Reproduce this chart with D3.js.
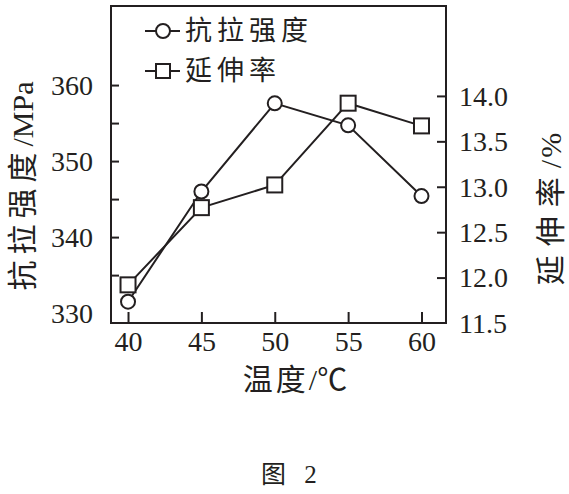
<!DOCTYPE html>
<html>
<head>
<meta charset="utf-8">
<script src="https://cdn.jsdelivr.net/npm/d3@7"></script>
<style>
  html, body { margin: 0; padding: 0; background: #fff; }
  svg { display: block; }
</style>
</head>
<body>
<svg id="chart" width="569" height="494"></svg>
<script>
// ---- data ----
const temperatures = [40, 45, 50, 55, 60];
const tensileStrength = [331.5, 346.0, 357.6, 354.7, 345.4];   // MPa
const elongation = [11.92, 12.77, 13.02, 13.92, 13.67];         // %
const xTicks = [40, 45, 50, 55, 60];
const leftTicks = [335, 340, 345, 350, 355, 360];
const leftLabels = [330, 340, 350, 360];
const rightTicks = [12.0, 12.5, 13.0, 13.5, 14.0];
const rightLabels = ["11.5", "12.0", "12.5", "13.0", "13.5", "14.0"];
const seriesNames = ["抗拉强度", "延伸率"];
const xTitle = ["温度", "/℃"];
const leftTitle = ["抗拉强度", "/MPa"];
const rightTitle = ["延伸率", "/%"];
const caption = "图 2";

// ---- layout ----
const ink = "#231f20";
const serif = "'Liberation Serif', 'DejaVu Serif', serif";
const cjk = "'Noto Sans CJK SC', sans-serif";
const mixed = "'Liberation Serif', 'Noto Sans CJK SC', serif";
const plot = { left: 111, right: 446, top: 6, bottom: 323 };

const svg = d3.select("#chart");

const x = d3.scaleLinear().domain([38.84, 61.67]).range([plot.left, plot.right]);
const yL = d3.scaleLinear().domain([328.7, 370.4]).range([plot.bottom, plot.top]);
const yR = d3.scaleLinear().domain([11.5, 14.99]).range([plot.bottom, plot.top]);

// frame
svg.append("rect")
  .attr("x", plot.left).attr("y", plot.top)
  .attr("width", plot.right - plot.left).attr("height", plot.bottom - plot.top)
  .attr("fill", "none").attr("stroke", ink).attr("stroke-width", 2);

// axes (ticks inward, labels placed outside)
const fontSize = 28;
const bottomAxis = d3.axisBottom(x).tickValues(xTicks).tickSize(-11).tickFormat(d3.format("d")).tickPadding(17);
const gB = svg.append("g").attr("transform", `translate(0,${plot.bottom})`).call(bottomAxis);

const leftAxis = d3.axisLeft(yL).tickValues(leftTicks).tickSize(-8).tickFormat(() => "");
const gL = svg.append("g").attr("transform", `translate(${plot.left},0)`).call(leftAxis);

const rightAxis = d3.axisRight(yR).tickValues(rightTicks).tickSize(-9).tickFormat(() => "");
const gR = svg.append("g").attr("transform", `translate(${plot.right},0)`).call(rightAxis);

[gB, gL, gR].forEach(g => {
  g.select(".domain").remove();
  g.selectAll(".tick line").attr("stroke", ink).attr("stroke-width", 2);
  g.selectAll("text").attr("fill", ink).attr("font-family", serif).attr("font-size", fontSize);
});
gB.selectAll(".tick text").attr("dy", "0.71em").attr("y", 8);

// left labels
svg.append("g").selectAll("text").data(leftLabels).join("text")
  .attr("x", plot.left - 18).attr("y", d => yL(d))
  .attr("dy", "0.35em").attr("text-anchor", "end")
  .attr("font-family", serif).attr("font-size", fontSize).attr("fill", ink)
  .text(d => d);

// right labels
svg.append("g").selectAll("text").data(rightLabels).join("text")
  .attr("x", plot.right + 13).attr("y", d => yR(+d))
  .attr("dy", "0.35em").attr("text-anchor", "start")
  .attr("font-family", serif).attr("font-size", fontSize).attr("fill", ink)
  .text(d => d);

function mixedTitle(parts, cjkSpacing, latinSpacing) {
  const t = svg.append("text")
    .attr("text-anchor", "middle")
    .attr("font-family", mixed).attr("font-size", 30).attr("fill", ink);
  t.append("tspan").attr("letter-spacing", cjkSpacing).text(parts[0]);
  t.append("tspan").attr("letter-spacing", latinSpacing).text(parts[1]);
  return t;
}

// axis titles
mixedTitle(leftTitle, 6, 0).attr("transform", `translate(33,186) rotate(-90)`);
mixedTitle(rightTitle, 9, 2).attr("transform", `translate(561,208) rotate(-90)`);
mixedTitle(xTitle, 3, 0).attr("transform", `translate(295,390)`);

// caption
svg.append("text")
  .attr("x", 292).attr("y", 474).attr("dy", "0.35em")
  .attr("text-anchor", "middle")
  .attr("font-family", mixed).attr("font-size", 25).attr("letter-spacing", 6).attr("fill", ink)
  .text(caption);

// lines
const lineL = d3.line().x((d, i) => x(temperatures[i])).y(d => yL(d));
const lineR = d3.line().x((d, i) => x(temperatures[i])).y(d => yR(d));

svg.append("path").datum(elongation).attr("d", lineR)
  .attr("fill", "none").attr("stroke", ink).attr("stroke-width", 2);
svg.append("path").datum(tensileStrength).attr("d", lineL)
  .attr("fill", "none").attr("stroke", ink).attr("stroke-width", 2);

const sq = 15;
svg.append("g").selectAll("rect").data(elongation).join("rect")
  .attr("x", (d, i) => x(temperatures[i]) - sq / 2)
  .attr("y", d => yR(d) - sq / 2)
  .attr("width", sq).attr("height", sq)
  .attr("fill", "#fff").attr("stroke", ink).attr("stroke-width", 2);

svg.append("g").selectAll("circle").data(tensileStrength).join("circle")
  .attr("cx", (d, i) => x(temperatures[i]))
  .attr("cy", d => yL(d))
  .attr("r", 7)
  .attr("fill", "#fff").attr("stroke", ink).attr("stroke-width", 2);

// legend
const legend = svg.append("g");
const legRows = [{ name: seriesNames[0], y: 31, shape: "circle" }, { name: seriesNames[1], y: 71, shape: "square" }];
legRows.forEach(r => {
  legend.append("line").attr("x1", 145).attr("x2", 180).attr("y1", r.y).attr("y2", r.y)
    .attr("stroke", ink).attr("stroke-width", 2);
  if (r.shape === "circle") {
    legend.append("circle").attr("cx", 163).attr("cy", r.y).attr("r", 7)
      .attr("fill", "#fff").attr("stroke", ink).attr("stroke-width", 2);
  } else {
    legend.append("rect").attr("x", 163 - 7).attr("y", r.y - 7).attr("width", 14).attr("height", 14)
      .attr("fill", "#fff").attr("stroke", ink).attr("stroke-width", 2);
  }
  legend.append("text").attr("x", 185).attr("y", r.y).attr("dy", "0.35em")
    .attr("font-family", cjk).attr("font-size", 27).attr("letter-spacing", 5).attr("fill", ink)
    .text(r.name);
});
</script>
</body>
</html>
